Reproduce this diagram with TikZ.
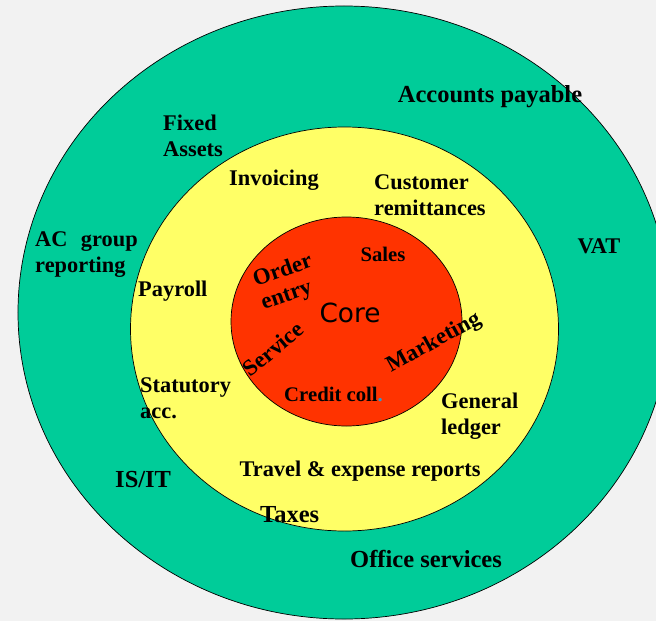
\documentclass[tikz,border=0pt]{standalone}
\usepackage{fontspec}
\setmainfont{Liberation Serif}
\newfontfamily\corefont{DejaVu Sans}
\usetikzlibrary{shapes.geometric}
\definecolor{ringgreen}{RGB}{0,204,153}
\definecolor{ringyellow}{RGB}{255,255,102}
\definecolor{corered}{RGB}{255,51,0}
\definecolor{backgray}{RGB}{242,242,242}
\definecolor{dotblue}{RGB}{51,153,204}

\begin{document}
\begin{tikzpicture} [x=0.3mm, y=-0.3mm,
    ring/.style={ellipse, draw=black, line width=0.6pt, inner sep=0pt, outer sep=0pt},
    big label/.style={font=\bfseries\fontsize{20.9}{22.2}\selectfont, inner sep=0pt},
    mid label/.style={font=\bfseries\fontsize{19.1}{22.2}\selectfont, inner sep=0pt, align=left},
    small label/.style={font=\bfseries\fontsize{17.7}{20.5}\selectfont, inner sep=0pt},
    tilted label/.style={font=\bfseries\fontsize{19.5}{21}\selectfont, inner sep=0pt}]

  \useasboundingbox (0, 0) rectangle (656, 621);
  \fill [backgray] (0, 0) rectangle (656, 621);
  \clip (0, 0) rectangle (656, 621);

  % the three rings
  \node [ring, fill=ringgreen,
    minimum width = 195.6mm,
    minimum height = 183.9mm
  ] (outer) at (344, 312.5) {};

  \node [ring, fill=ringyellow,
    minimum width = 128.4mm,
    minimum height = 121.2mm
  ] (middle) at (344.5, 329) {};

  \node [ring, fill=corered,
    minimum width = 69.3mm,
    minimum height = 62.7mm
  ] (core) at (346.5, 321.5) {};

  % outer ring
  \node [big label, anchor=base] (payable) at (490, 102) {Accounts payable};
  \node [mid label, anchor=west] (fixed) at (163, 135.5) {Fixed\\Assets};
  \node [mid label, anchor=west] (acgroup) at (35, 255) {AC\hspace{.6em}group\\reporting};
  \node [mid label, anchor=base] (vat) at (599, 253) {VAT};
  \node [big label, anchor=base west] (isit) at (115, 487) {IS/IT};
  \node [big label, anchor=base west] (office) at (350, 567) {Office services};

  % middle ring
  \node [mid label, anchor=base] (invoicing) at (274, 185) {Invoicing};
  \node [mid label, anchor=west] (remit) at (374, 195.5) {Customer\\remittances};
  \node [mid label, anchor=base west] (payroll) at (138, 296) {Payroll};
  \node [mid label, anchor=west] (statutory) at (140, 398) {Statutory\\acc.};
  \node [mid label, anchor=west] (ledger) at (441, 416) {General\\ledger};
  \node [mid label, anchor=base] (travel) at (360, 476) {Travel \& expense reports};
  \node [big label, anchor=base west] (taxes) at (260, 522) {Taxes};

  % core
  \node [font=\corefont\fontsize{22.5}{27}\selectfont, anchor=base] (corename) at (350, 322) {Core};
  \node [small label, anchor=base] (sales) at (383, 261) {Sales};
  \node [tilted label, align=left, rotate=19] (order) at (287, 283) {Order\\entry};
  \node [tilted label, rotate=40] (service) at (273, 349) {Service};
  \node [tilted label, rotate=29] (marketing) at (434, 343) {Marketing};
  \node [small label, anchor=base west] (credit) at (284, 401) {Credit coll\textcolor{dotblue}{.}};

\end{tikzpicture}
\end{document}
